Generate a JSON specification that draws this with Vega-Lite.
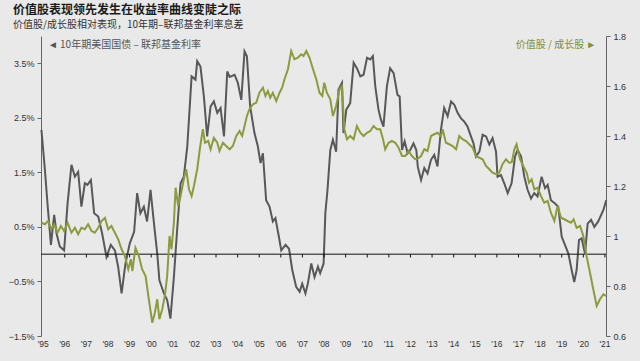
{
  "$schema": "https://vega.github.io/schema/vega-lite/v6.json",
  "autosize": {"type": "none"},
  "width": 565,
  "height": 300,
  "padding": {"left": 41, "top": 36, "right": 34, "bottom": 25},
  "background": "#e9e9e9",
  "config": {"view": {"stroke": null}, "font": "Liberation Sans"},
  "title": {
    "text": "价值股表现领先发生在收益率曲线变陡之际",
    "subtitle": "价值股/成长股相对表现，10年期–联邦基金利率息差",
    "anchor": "start",
    "frame": "group",
    "dx": -28,
    "offset": 1,
    "font": "Noto Sans CJK SC",
    "fontSize": 12,
    "fontWeight": "bold",
    "color": "#1a1a1a",
    "subtitleFont": "Noto Sans CJK SC",
    "subtitleFontSize": 10,
    "subtitleColor": "#333333",
    "subtitlePadding": 3
  },
  "datasets": {
    "spread": [
      {"t":1994.92,"v":2.28},{"t":1995.08,"v":1.55},{"t":1995.2,"v":0.93},{"t":1995.36,"v":0.17},{"t":1995.51,"v":0.72},{"t":1995.62,"v":0.38},{"t":1995.77,"v":0.14},{"t":1995.97,"v":0.07},{"t":1996.13,"v":0.93},{"t":1996.31,"v":1.64},{"t":1996.47,"v":1.42},{"t":1996.62,"v":1.51},{"t":1996.77,"v":0.87},{"t":1996.93,"v":1.30},{"t":1997.05,"v":1.27},{"t":1997.21,"v":1.36},{"t":1997.36,"v":0.75},{"t":1997.55,"v":0.69},{"t":1997.73,"v":0.38},{"t":1997.93,"v":-0.05},{"t":1998.13,"v":0.17},{"t":1998.32,"v":0.07},{"t":1998.47,"v":-0.23},{"t":1998.63,"v":-0.72},{"t":1998.81,"v":-0.17},{"t":1999.01,"v":0.20},{"t":1999.21,"v":0.41},{"t":1999.35,"v":1.12},{"t":1999.5,"v":0.75},{"t":1999.66,"v":0.87},{"t":1999.81,"v":0.60},{"t":1999.97,"v":1.18},{"t":2000.13,"v":0.56},{"t":2000.28,"v":0.01},{"t":2000.38,"v":-0.48},{"t":2000.59,"v":-0.72},{"t":2000.74,"v":-0.84},{"t":2000.89,"v":-1.18},{"t":2001.05,"v":-0.42},{"t":2001.2,"v":0.44},{"t":2001.36,"v":1.30},{"t":2001.51,"v":1.42},{"t":2001.67,"v":1.97},{"t":2001.87,"v":3.26},{"t":2002.05,"v":3.20},{"t":2002.13,"v":3.54},{"t":2002.28,"v":3.44},{"t":2002.44,"v":2.89},{"t":2002.59,"v":2.16},{"t":2002.75,"v":2.71},{"t":2002.9,"v":2.80},{"t":2003.06,"v":2.59},{"t":2003.21,"v":2.68},{"t":2003.37,"v":2.16},{"t":2003.52,"v":3.35},{"t":2003.63,"v":3.25},{"t":2003.86,"v":3.29},{"t":2004.01,"v":3.14},{"t":2004.17,"v":2.83},{"t":2004.32,"v":3.72},{"t":2004.43,"v":3.63},{"t":2004.58,"v":2.71},{"t":2004.78,"v":2.22},{"t":2004.94,"v":1.97},{"t":2005.06,"v":1.67},{"t":2005.17,"v":1.85},{"t":2005.32,"v":0.99},{"t":2005.48,"v":0.87},{"t":2005.63,"v":0.60},{"t":2005.75,"v":0.66},{"t":2005.91,"v":0.32},{"t":2006.02,"v":0.07},{"t":2006.22,"v":0.17},{"t":2006.38,"v":0.10},{"t":2006.53,"v":-0.29},{"t":2006.71,"v":-0.60},{"t":2006.87,"v":-0.69},{"t":2006.99,"v":-0.54},{"t":2007.14,"v":-0.72},{"t":2007.25,"v":-0.54},{"t":2007.41,"v":-0.17},{"t":2007.56,"v":-0.42},{"t":2007.72,"v":-0.23},{"t":2007.82,"v":-0.35},{"t":2007.98,"v":-0.17},{"t":2008.06,"v":0.75},{"t":2008.16,"v":1.18},{"t":2008.29,"v":1.91},{"t":2008.41,"v":2.10},{"t":2008.56,"v":1.88},{"t":2008.67,"v":3.02},{"t":2008.83,"v":3.14},{"t":2008.9,"v":2.22},{"t":2009.03,"v":2.65},{"t":2009.21,"v":2.77},{"t":2009.37,"v":3.51},{"t":2009.52,"v":3.41},{"t":2009.68,"v":3.26},{"t":2009.83,"v":3.29},{"t":2009.99,"v":3.60},{"t":2010.14,"v":3.57},{"t":2010.26,"v":3.63},{"t":2010.37,"v":3.08},{"t":2010.52,"v":2.65},{"t":2010.63,"v":2.47},{"t":2010.75,"v":2.34},{"t":2010.91,"v":3.08},{"t":2011.06,"v":3.41},{"t":2011.22,"v":3.32},{"t":2011.4,"v":2.92},{"t":2011.5,"v":2.89},{"t":2011.61,"v":1.91},{"t":2011.73,"v":2.07},{"t":2011.87,"v":1.85},{"t":2011.99,"v":1.91},{"t":2012.14,"v":2.03},{"t":2012.27,"v":1.91},{"t":2012.34,"v":1.60},{"t":2012.49,"v":1.36},{"t":2012.64,"v":1.58},{"t":2012.79,"v":1.48},{"t":2012.95,"v":1.73},{"t":2013.1,"v":1.82},{"t":2013.25,"v":1.61},{"t":2013.41,"v":2.28},{"t":2013.56,"v":2.68},{"t":2013.72,"v":2.53},{"t":2013.88,"v":2.80},{"t":2014.03,"v":2.74},{"t":2014.18,"v":2.59},{"t":2014.34,"v":2.49},{"t":2014.49,"v":2.43},{"t":2014.64,"v":2.34},{"t":2014.8,"v":2.16},{"t":2014.92,"v":2.03},{"t":2015.03,"v":1.79},{"t":2015.19,"v":1.88},{"t":2015.34,"v":2.19},{"t":2015.5,"v":2.16},{"t":2015.65,"v":2.01},{"t":2015.8,"v":2.13},{"t":2015.96,"v":1.88},{"t":2016.03,"v":1.42},{"t":2016.19,"v":1.45},{"t":2016.34,"v":1.30},{"t":2016.5,"v":1.12},{"t":2016.68,"v":1.30},{"t":2016.84,"v":1.79},{"t":2016.96,"v":1.91},{"t":2017.12,"v":1.79},{"t":2017.27,"v":1.42},{"t":2017.42,"v":1.18},{"t":2017.58,"v":1.02},{"t":2017.73,"v":1.12},{"t":2017.88,"v":1.06},{"t":2018.07,"v":1.42},{"t":2018.23,"v":1.21},{"t":2018.35,"v":1.27},{"t":2018.5,"v":0.99},{"t":2018.69,"v":0.93},{"t":2018.84,"v":0.87},{"t":2019.0,"v":0.32},{"t":2019.15,"v":0.17},{"t":2019.31,"v":0.01},{"t":2019.46,"v":-0.29},{"t":2019.58,"v":-0.51},{"t":2019.69,"v":-0.29},{"t":2019.8,"v":0.26},{"t":2019.92,"v":0.29},{"t":2020.08,"v":0.01},{"t":2020.2,"v":0.56},{"t":2020.36,"v":0.63},{"t":2020.51,"v":0.50},{"t":2020.69,"v":0.60},{"t":2020.93,"v":0.81},{"t":2021.06,"v":0.99}
    ],
    "ratio": [
      {"t":1994.92,"r":1.053},{"t":1995.08,"r":1.047},{"t":1995.23,"r":1.06},{"t":1995.38,"r":1.027},{"t":1995.51,"r":1.047},{"t":1995.66,"r":1.013},{"t":1995.82,"r":1.04},{"t":1995.97,"r":1.02},{"t":1996.13,"r":1.053},{"t":1996.31,"r":1.013},{"t":1996.47,"r":1.033},{"t":1996.62,"r":1.007},{"t":1996.77,"r":1.033},{"t":1996.93,"r":1.027},{"t":1997.08,"r":1.047},{"t":1997.24,"r":1.02},{"t":1997.39,"r":1.013},{"t":1997.55,"r":1.033},{"t":1997.7,"r":1.06},{"t":1997.86,"r":1.073},{"t":1998.01,"r":1.027},{"t":1998.16,"r":1.04},{"t":1998.32,"r":1.013},{"t":1998.47,"r":0.987},{"t":1998.63,"r":0.947},{"t":1998.78,"r":0.92},{"t":1998.94,"r":0.867},{"t":1999.06,"r":0.907},{"t":1999.13,"r":0.86},{"t":1999.27,"r":0.953},{"t":1999.43,"r":0.92},{"t":1999.58,"r":0.867},{"t":1999.74,"r":0.84},{"t":1999.89,"r":0.747},{"t":2000.05,"r":0.653},{"t":2000.17,"r":0.693},{"t":2000.28,"r":0.747},{"t":2000.38,"r":0.667},{"t":2000.51,"r":0.707},{"t":2000.63,"r":0.76},{"t":2000.74,"r":0.84},{"t":2000.85,"r":1.0},{"t":2000.94,"r":0.947},{"t":2001.05,"r":1.053},{"t":2001.13,"r":1.193},{"t":2001.25,"r":1.12},{"t":2001.36,"r":1.16},{"t":2001.51,"r":1.227},{"t":2001.62,"r":1.267},{"t":2001.75,"r":1.187},{"t":2001.87,"r":1.16},{"t":2001.98,"r":1.2},{"t":2002.13,"r":1.267},{"t":2002.25,"r":1.347},{"t":2002.39,"r":1.427},{"t":2002.49,"r":1.373},{"t":2002.64,"r":1.38},{"t":2002.75,"r":1.347},{"t":2002.9,"r":1.393},{"t":2003.06,"r":1.373},{"t":2003.16,"r":1.34},{"t":2003.32,"r":1.373},{"t":2003.47,"r":1.36},{"t":2003.63,"r":1.347},{"t":2003.78,"r":1.36},{"t":2003.94,"r":1.40},{"t":2004.09,"r":1.42},{"t":2004.21,"r":1.40},{"t":2004.32,"r":1.44},{"t":2004.43,"r":1.48},{"t":2004.55,"r":1.507},{"t":2004.71,"r":1.527},{"t":2004.86,"r":1.533},{"t":2005.01,"r":1.573},{"t":2005.17,"r":1.593},{"t":2005.29,"r":1.56},{"t":2005.4,"r":1.58},{"t":2005.51,"r":1.553},{"t":2005.63,"r":1.573},{"t":2005.79,"r":1.54},{"t":2005.94,"r":1.573},{"t":2006.06,"r":1.593},{"t":2006.17,"r":1.627},{"t":2006.33,"r":1.667},{"t":2006.48,"r":1.74},{"t":2006.63,"r":1.707},{"t":2006.79,"r":1.713},{"t":2006.94,"r":1.727},{"t":2007.05,"r":1.72},{"t":2007.18,"r":1.74},{"t":2007.33,"r":1.713},{"t":2007.49,"r":1.667},{"t":2007.64,"r":1.627},{"t":2007.79,"r":1.573},{"t":2007.92,"r":1.56},{"t":2008.01,"r":1.613},{"t":2008.13,"r":1.573},{"t":2008.29,"r":1.547},{"t":2008.41,"r":1.48},{"t":2008.56,"r":1.52},{"t":2008.72,"r":1.587},{"t":2008.83,"r":1.60},{"t":2008.94,"r":1.427},{"t":2009.06,"r":1.387},{"t":2009.21,"r":1.40},{"t":2009.37,"r":1.387},{"t":2009.52,"r":1.44},{"t":2009.68,"r":1.413},{"t":2009.83,"r":1.40},{"t":2009.99,"r":1.413},{"t":2010.14,"r":1.42},{"t":2010.29,"r":1.44},{"t":2010.45,"r":1.427},{"t":2010.6,"r":1.427},{"t":2010.73,"r":1.387},{"t":2010.83,"r":1.347},{"t":2010.99,"r":1.373},{"t":2011.14,"r":1.38},{"t":2011.3,"r":1.373},{"t":2011.45,"r":1.353},{"t":2011.61,"r":1.32},{"t":2011.76,"r":1.32},{"t":2011.91,"r":1.34},{"t":2012.07,"r":1.32},{"t":2012.22,"r":1.307},{"t":2012.34,"r":1.31},{"t":2012.49,"r":1.32},{"t":2012.64,"r":1.347},{"t":2012.79,"r":1.34},{"t":2012.95,"r":1.40},{"t":2013.1,"r":1.407},{"t":2013.25,"r":1.413},{"t":2013.41,"r":1.40},{"t":2013.49,"r":1.427},{"t":2013.64,"r":1.373},{"t":2013.8,"r":1.367},{"t":2013.95,"r":1.36},{"t":2014.11,"r":1.347},{"t":2014.26,"r":1.40},{"t":2014.41,"r":1.387},{"t":2014.57,"r":1.38},{"t":2014.72,"r":1.367},{"t":2014.88,"r":1.353},{"t":2015.03,"r":1.32},{"t":2015.19,"r":1.313},{"t":2015.34,"r":1.307},{"t":2015.5,"r":1.28},{"t":2015.65,"r":1.267},{"t":2015.8,"r":1.253},{"t":2015.96,"r":1.247},{"t":2016.11,"r":1.253},{"t":2016.26,"r":1.287},{"t":2016.42,"r":1.307},{"t":2016.57,"r":1.293},{"t":2016.69,"r":1.295},{"t":2016.81,"r":1.347},{"t":2016.91,"r":1.367},{"t":2017.07,"r":1.307},{"t":2017.22,"r":1.28},{"t":2017.38,"r":1.253},{"t":2017.49,"r":1.213},{"t":2017.61,"r":1.227},{"t":2017.73,"r":1.187},{"t":2017.88,"r":1.193},{"t":2018.04,"r":1.16},{"t":2018.19,"r":1.133},{"t":2018.35,"r":1.14},{"t":2018.5,"r":1.093},{"t":2018.66,"r":1.06},{"t":2018.81,"r":1.12},{"t":2018.97,"r":1.073},{"t":2019.12,"r":1.067},{"t":2019.27,"r":1.06},{"t":2019.43,"r":1.053},{"t":2019.55,"r":1.067},{"t":2019.69,"r":1.033},{"t":2019.85,"r":1.04},{"t":2020.0,"r":1.0},{"t":2020.15,"r":0.92},{"t":2020.31,"r":0.853},{"t":2020.46,"r":0.787},{"t":2020.62,"r":0.72},{"t":2020.77,"r":0.747},{"t":2020.93,"r":0.767},{"t":2021.06,"r":0.76}
    ],
    "years": [
      {"t":1995,"lab":"'95"},{"t":1996,"lab":"'96"},{"t":1997,"lab":"'97"},{"t":1998,"lab":"'98"},{"t":1999,"lab":"'99"},{"t":2000,"lab":"'00"},{"t":2001,"lab":"'01"},{"t":2002,"lab":"'02"},{"t":2003,"lab":"'03"},{"t":2004,"lab":"'04"},{"t":2005,"lab":"'05"},{"t":2006,"lab":"'06"},{"t":2007,"lab":"'07"},{"t":2008,"lab":"'08"},{"t":2009,"lab":"'09"},{"t":2010,"lab":"'10"},{"t":2011,"lab":"'11"},{"t":2012,"lab":"'12"},{"t":2013,"lab":"'13"},{"t":2014,"lab":"'14"},{"t":2015,"lab":"'15"},{"t":2016,"lab":"'16"},{"t":2017,"lab":"'17"},{"t":2018,"lab":"'18"},{"t":2019,"lab":"'19"},{"t":2020,"lab":"'20"},{"t":2021,"lab":"'21"}
    ]
  },
  "layer": [
    {
      "layer": [
        {
          "data": {"name": "spread"},
          "mark": {"type": "line", "color": "#58585a", "strokeWidth": 2},
          "encoding": {
            "x": {
              "field": "t", "type": "quantitative", "title": null,
              "scale": {"domain": [1994.9, 2021.05], "nice": false, "zero": false},
              "axis": null
            },
            "y": {
              "field": "v", "type": "quantitative", "title": null,
              "scale": {"domain": [-1.5, 4.0], "nice": false, "zero": false},
              "axis": {
                "title": null, "grid": false, "orient": "left",
                "values": [-1.5, -0.5, 0.5, 1.5, 2.5, 3.5],
                "labelExpr": "format(datum.value, '.1f') + '%'",
                "labelFontSize": 9, "labelColor": "#333333", "labelPadding": 3,
                "tickSize": 4, "tickColor": "#666666", "domainColor": "#666666"
              }
            }
          }
        },
        {
          "data": {"values": [{"z": 0}]},
          "mark": {"type": "rule", "color": "#111111", "strokeWidth": 1},
          "encoding": {"y": {"field": "z", "type": "quantitative", "title": null}}
        },
        {
          "data": {"name": "years"},
          "transform": [{"filter": "datum.t > 1995"}],
          "mark": {"type": "rule", "color": "#111111", "strokeWidth": 1},
          "encoding": {
            "x": {"field": "t", "type": "quantitative", "axis": null},
            "y": {"datum": 0, "type": "quantitative", "title": null},
            "y2": {"datum": -0.06}
          }
        },
        {
          "data": {"name": "years"},
          "mark": {"type": "text", "align": "center", "baseline": "top", "dy": 4, "font": "Liberation Sans", "fontSize": 8.5, "color": "#333333"},
          "encoding": {
            "x": {"field": "t", "type": "quantitative", "axis": null},
            "y": {"datum": -1.5, "type": "quantitative", "title": null},
            "text": {"field": "lab"}
          }
        },
        {
          "data": {"values": [{"label": "◄ 10年期美国国债 – 联邦基金利率"}]},
          "mark": {"type": "text", "align": "left", "baseline": "middle", "font": "Noto Sans CJK SC", "fontSize": 10, "color": "#555555"},
          "encoding": {
            "x": {"datum": 1995.22, "type": "quantitative", "axis": null},
            "y": {"datum": 3.83, "type": "quantitative", "title": null},
            "text": {"field": "label"}
          }
        }
      ]
    },
    {
      "layer": [
        {
          "data": {"name": "ratio"},
          "mark": {"type": "line", "color": "#8d9b3f", "strokeWidth": 2},
          "encoding": {
            "x": {"field": "t", "type": "quantitative", "axis": null},
            "y": {
              "field": "r", "type": "quantitative", "title": null,
              "scale": {"domain": [0.6, 1.8], "nice": false, "zero": false},
              "axis": {
                "title": null, "grid": false, "orient": "right",
                "values": [0.6, 0.8, 1, 1.2, 1.4, 1.6, 1.8],
                "format": "~f",
                "labelFontSize": 9, "labelColor": "#333333", "labelPadding": 3,
                "tickSize": 4, "tickColor": "#666666", "domainColor": "#666666"
              }
            }
          }
        },
        {
          "data": {"values": [{"label": "价值股 / 成长股 ►"}]},
          "mark": {"type": "text", "align": "right", "baseline": "middle", "font": "Noto Sans CJK SC", "fontSize": 10, "color": "#7f8f35"},
          "encoding": {
            "x": {"datum": 2020.6, "type": "quantitative", "axis": null},
            "y": {"datum": 1.764, "type": "quantitative", "title": null},
            "text": {"field": "label"}
          }
        }
      ]
    }
  ],
  "resolve": {"scale": {"y": "independent"}}
}
